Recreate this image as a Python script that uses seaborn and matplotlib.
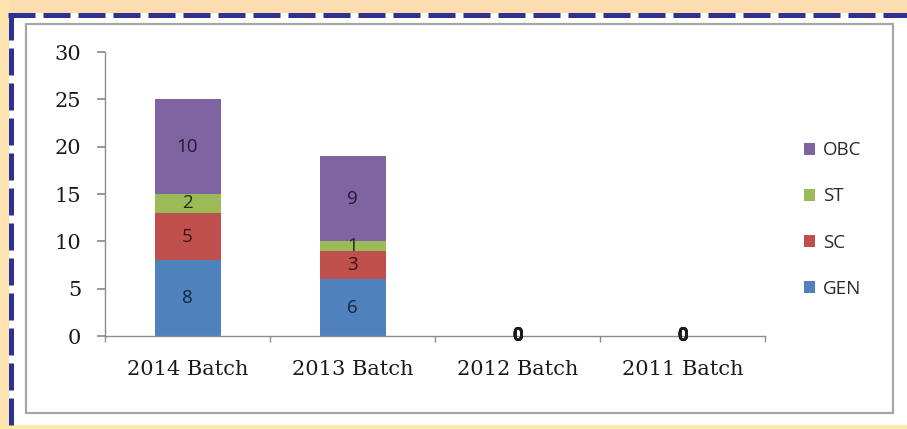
import numpy as np
import pandas as pd
import matplotlib
matplotlib.use("Agg")
import matplotlib.pyplot as plt
import seaborn as sns
from matplotlib.patches import Patch, Rectangle
from matplotlib.lines import Line2D

batches = ["2014 Batch", "2013 Batch", "2012 Batch", "2011 Batch"]
gen = [8, 6, 0, 0]
sc = [5, 3, 0, 0]
st = [2, 1, 0, 0]
obc = [10, 9, 0, 0]

series_names = ["GEN", "SC", "ST", "OBC"]
series_colors = ["#4F81BD", "#C0504D", "#9BBB59", "#8064A2"]
label_colors = ["#14253d", "#3d1211", "#222e10", "#22183a"]

sns.set_theme(style="white")

W, H = 907, 429
fig = plt.figure(figsize=(W / 100, H / 100), dpi=100)
fig.patch.set_facecolor("white")


def fx(x):
    return x / W


def fy(y):
    return 1 - y / H


# page decoration: cream bands, dashed blue frame, grey chart box
fig.add_artist(Rectangle((0, fy(12)), 1, 12 / H, transform=fig.transFigure,
                         color="#FCDDB0", zorder=0))
fig.add_artist(Rectangle((0, 0), fx(8), 1, transform=fig.transFigure,
                         color="#FDE3B0", zorder=0))
fig.add_artist(Rectangle((0, 0), 1, 4 / H, transform=fig.transFigure,
                         color="#FCE8A8", zorder=0))
dash = (0, (5.4, 1.6))
fig.add_artist(Line2D([fx(8), 1], [fy(15), fy(15)], transform=fig.transFigure,
                      color="#2E3192", lw=3.6, linestyle=dash))
fig.add_artist(Line2D([fx(10.5), fx(10.5)], [fy(13), 0], transform=fig.transFigure,
                      color="#2E3192", lw=3.6, linestyle=dash))
fig.add_artist(Rectangle((fx(26), fy(413)), fx(893 - 26), (413 - 24) / H,
                         transform=fig.transFigure, facecolor="none",
                         edgecolor="#A6A6A6", lw=1.6))

ax = fig.add_axes([fx(105), fy(336), fx(765 - 105), (336 - 52) / H])
ax.set_facecolor("none")

df = pd.DataFrame({"Batch": batches, "GEN": gen, "SC": sc, "ST": st, "OBC": obc})
cum = df[series_names].cumsum(axis=1)

# stacked bars: draw cumulative totals from the top series down
for name, color in zip(series_names[::-1], series_colors[::-1]):
    sns.barplot(x=df["Batch"], y=cum[name], color=color, width=0.4,
                saturation=1, ax=ax, linewidth=0)

# data labels at segment centres
bottom = np.zeros(len(batches))
for name, lc in zip(series_names, label_colors):
    vals = df[name].to_numpy()
    for i, v in enumerate(vals):
        if v > 0:
            ax.text(i, bottom[i] + v / 2, str(v), ha="center", va="center",
                    fontsize=13.5, color=lc, family="Open Sans")
        else:
            ax.text(i, bottom[i], "0", ha="center", va="center",
                    fontsize=13.5, color="#1a1a1a", family="Open Sans",
                    fontweight="bold")
    bottom = bottom + vals

ax.set_ylim(0, 30)
ax.set_xlim(-0.5, 3.5)
ax.set_yticks(range(0, 31, 5))
ax.set_xlabel("")
ax.set_ylabel("")
for s in ["top", "right"]:
    ax.spines[s].set_visible(False)
for s in ["left", "bottom"]:
    ax.spines[s].set_color("#8C8C8C")
    ax.spines[s].set_linewidth(1.0)

ax.set_xticks(np.arange(-0.5, 4, 1), minor=True)
ax.tick_params(axis="x", which="major", length=0, pad=17)
ax.tick_params(axis="x", which="minor", length=4, color="#8C8C8C",
               direction="out", bottom=True)
ax.tick_params(axis="y", length=6, color="#8C8C8C", direction="out", left=True, pad=11)
for lab in ax.get_xticklabels():
    lab.set_family("DejaVu Serif")
    lab.set_fontsize(15)
    lab.set_color("#1a1a1a")
for lab in ax.get_yticklabels():
    lab.set_family("DejaVu Serif")
    lab.set_fontsize(15)
    lab.set_color("#1a1a1a")

handles = [Patch(facecolor=c, edgecolor="none", label=n)
           for n, c in zip(series_names[::-1], series_colors[::-1])]
leg = fig.legend(handles=handles, loc="center left",
                 bbox_to_anchor=(fx(804), fy(219.5)), frameon=False,
                 borderpad=0, borderaxespad=0, handlelength=0.6,
                 handleheight=0.6, handletextpad=0.4, labelspacing=1.5,
                 prop={"family": "Open Sans", "size": 13.5})
for t in leg.get_texts():
    t.set_color("#2a2a2a")

fig.savefig("out.png", dpi=100)
